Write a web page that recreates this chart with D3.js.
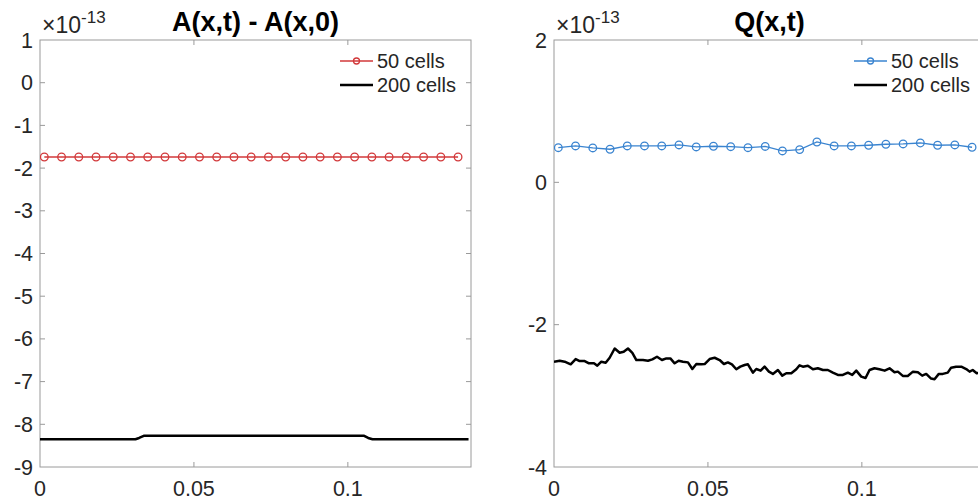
<!DOCTYPE html>
<html>
<head>
<meta charset="utf-8">
<script src="https://cdn.jsdelivr.net/npm/d3@7/dist/d3.min.js"></script>
<style>
  body { margin: 0; background: #fff; }
  svg { display: block; font-family: "Liberation Sans", Arial, sans-serif; }
</style>
</head>
<body>
<svg id="chart" width="978" height="502"></svg>
<script>
// shared x ticks
const xTicks = [0, 0.05, 0.1];
const xTickLabels = ['0', '0.05', '0.1'];

// 50 cells: cell centres that were plotted (x)
const coarseX = [0.0014, 0.0070, 0.0126, 0.0182, 0.0238, 0.0294, 0.0350, 0.0406, 0.0462,
  0.0518, 0.0574, 0.0630, 0.0686, 0.0742, 0.0798, 0.0854, 0.0910, 0.0966, 0.1022,
  0.1078, 0.1134, 0.1190, 0.1246, 0.1302, 0.1358];

// left panel: A(x,t) - A(x,0), in units of 1e-13
const leftYTicks = [1, 0, -1, -2, -3, -4, -5, -6, -7, -8, -9];
const aCoarse = [-1.74, -1.74, -1.74, -1.74, -1.74, -1.74, -1.74, -1.74, -1.74, -1.74,
  -1.74, -1.74, -1.74, -1.74, -1.74, -1.74, -1.74, -1.74, -1.74, -1.74,
  -1.74, -1.74, -1.74, -1.74, -1.74];
const aFineX = [0, 0.031, 0.0322, 0.0337, 0.1053, 0.1066, 0.108, 0.1392];
const aFine = [-8.35, -8.35, -8.32, -8.27, -8.27, -8.32, -8.35, -8.35];

// right panel: Q(x,t), in units of 1e-13
const rightYTicks = [2, 0, -2, -4];
const qCoarse = [0.487, 0.511, 0.483, 0.465, 0.511, 0.511, 0.511, 0.525, 0.497, 0.507,
  0.501, 0.487, 0.504, 0.441, 0.460, 0.567, 0.511, 0.511, 0.521, 0.535,
  0.539, 0.553, 0.521, 0.525, 0.493];
const qFineX = [0, 0.00185, 0.00347, 0.00542, 0.00704, 0.00834, 0.00997, 0.01136, 0.01299,
  0.01407, 0.01538, 0.01679, 0.01808, 0.01971, 0.02133, 0.02263, 0.02403, 0.02545,
  0.02675, 0.0289, 0.03052, 0.03195, 0.03345, 0.03507, 0.03649, 0.03779, 0.03919,
  0.04049, 0.04189, 0.04351, 0.04494, 0.04624, 0.04786, 0.04893, 0.05055, 0.05218,
  0.0538, 0.05519, 0.05649, 0.05779, 0.05922, 0.06052, 0.06192, 0.06299, 0.06461,
  0.06571, 0.06711, 0.0684, 0.06981, 0.0711, 0.07273, 0.07415, 0.07545, 0.07708,
  0.0787, 0.07977, 0.08085, 0.08247, 0.0841, 0.08571, 0.08734, 0.08896, 0.09058,
  0.09221, 0.09383, 0.09545, 0.09688, 0.09818, 0.0998, 0.1012, 0.1025, 0.1041,
  0.1057, 0.1074, 0.109, 0.1106, 0.1117, 0.1133, 0.1149, 0.1166, 0.1182, 0.1196,
  0.1209, 0.1225, 0.1236, 0.125, 0.1263, 0.1279, 0.129, 0.1306, 0.1323, 0.1339,
  0.135, 0.136, 0.1373, 0.1395];
const qFine = [-2.52, -2.507, -2.52, -2.557, -2.483, -2.511, -2.511, -2.543, -2.543,
  -2.576, -2.52, -2.535, -2.465, -2.335, -2.395, -2.381, -2.335, -2.395,
  -2.497, -2.497, -2.507, -2.488, -2.451, -2.497, -2.474, -2.474, -2.543,
  -2.507, -2.52, -2.53, -2.623, -2.553, -2.557, -2.553, -2.483, -2.465,
  -2.497, -2.553, -2.53, -2.557, -2.627, -2.59, -2.567, -2.557, -2.674,
  -2.623, -2.646, -2.59, -2.66, -2.692, -2.637, -2.716, -2.683, -2.683,
  -2.627, -2.571, -2.59, -2.576, -2.627, -2.613, -2.637, -2.637, -2.674,
  -2.706, -2.706, -2.674, -2.706, -2.646, -2.73, -2.75, -2.637, -2.613,
  -2.627, -2.646, -2.613, -2.669, -2.66, -2.72, -2.72, -2.66, -2.669, -2.716,
  -2.692, -2.757, -2.766, -2.692, -2.692, -2.674, -2.604, -2.59, -2.59, -2.623,
  -2.66, -2.637, -2.683, -2.66];

const seriesNames = ['50 cells', '200 cells'];

const svg = d3.select('#chart');
const axisColor = '#9a9a9a';
const textColor = '#262626';

function drawPanel(cfg) {
  const x = d3.scaleLinear().domain([0, 0.14]).range([cfg.left, cfg.left + 431]);
  const y = d3.scaleLinear().domain(cfg.yDomain).range([467, 40]);
  const g = svg.append('g');

  const clipId = 'clip-' + cfg.id;
  g.append('clipPath').attr('id', clipId)
    .append('rect')
    .attr('x', x.range()[0]).attr('y', 40)
    .attr('width', 431).attr('height', 427);

  // box
  g.append('rect')
    .attr('x', x.range()[0]).attr('y', 40)
    .attr('width', 431).attr('height', 427)
    .attr('fill', 'none').attr('stroke', axisColor).attr('stroke-width', 1);

  // inward ticks on all four sides
  const tl = 5;
  xTicks.forEach(t => {
    if (t === 0) return;
    g.append('line').attr('x1', x(t)).attr('x2', x(t)).attr('y1', 467).attr('y2', 467 - tl)
      .attr('stroke', axisColor);
    g.append('line').attr('x1', x(t)).attr('x2', x(t)).attr('y1', 40).attr('y2', 40 + tl)
      .attr('stroke', axisColor);
  });
  cfg.yTicks.forEach(t => {
    if (t === cfg.yDomain[0] || t === cfg.yDomain[1]) return;
    g.append('line').attr('x1', x.range()[0]).attr('x2', x.range()[0] + tl)
      .attr('y1', y(t)).attr('y2', y(t)).attr('stroke', axisColor);
    g.append('line').attr('x1', x.range()[1]).attr('x2', x.range()[1] - tl)
      .attr('y1', y(t)).attr('y2', y(t)).attr('stroke', axisColor);
  });

  // tick labels
  g.selectAll('.xl').data(xTicks).enter().append('text')
    .attr('x', d => x(d)).attr('y', 496)
    .attr('text-anchor', 'middle').attr('font-size', 21.5).attr('fill', textColor)
    .text((d, i) => xTickLabels[i]);
  g.selectAll('.yl').data(cfg.yTicks).enter().append('text')
    .attr('x', x.range()[0] - 7).attr('y', d => y(d) + 7.5)
    .attr('text-anchor', 'end').attr('font-size', 21.5).attr('fill', textColor)
    .text(d => d);

  // exponent
  const ex = g.append('text').attr('x', x.range()[0] + 2).attr('y', 33)
    .attr('font-size', 23).attr('fill', textColor);
  ex.append('tspan').text('\u00d710');
  ex.append('tspan').attr('dy', -10).attr('font-size', 17).text('-13');

  // title
  g.append('text').attr('x', (x.range()[0] + x.range()[1]) / 2).attr('y', 31)
    .attr('text-anchor', 'middle').attr('font-size', 27).attr('font-weight', 'bold')
    .attr('fill', '#000').text(cfg.title);

  const plot = g.append('g').attr('clip-path', `url(#${clipId})`);
  const line = d3.line().x(d => x(d[0])).y(d => y(d[1]));

  // 200 cells
  const fine = cfg.fineX.map((v, i) => [v, cfg.fine[i]]);
  plot.append('path').datum(fine).attr('d', line)
    .attr('fill', 'none').attr('stroke', '#000').attr('stroke-width', 2.5)
    .attr('stroke-linejoin', 'round');

  // 50 cells
  const coarse = coarseX.map((v, i) => [v, cfg.coarse[i]]);
  plot.append('path').datum(coarse).attr('d', line)
    .attr('fill', 'none').attr('stroke', cfg.color).attr('stroke-width', 1.3);
  plot.selectAll('.mk').data(coarse).enter().append('circle')
    .attr('cx', d => x(d[0])).attr('cy', d => y(d[1])).attr('r', 3.8)
    .attr('fill', 'none').attr('stroke', cfg.color).attr('stroke-width', 1.3);

  // legend (no box)
  const lx = cfg.legendX;
  g.append('line').attr('x1', lx).attr('x2', lx + 33).attr('y1', 61).attr('y2', 61)
    .attr('stroke', cfg.color).attr('stroke-width', 1.3);
  g.append('circle').attr('cx', lx + 16.5).attr('cy', 61).attr('r', 3)
    .attr('fill', 'none').attr('stroke', cfg.color).attr('stroke-width', 1.3);
  g.append('line').attr('x1', lx).attr('x2', lx + 33).attr('y1', 85).attr('y2', 85)
    .attr('stroke', '#000').attr('stroke-width', 2.5);
  g.selectAll('.lg').data(seriesNames).enter().append('text')
    .attr('x', lx + 37).attr('y', (d, i) => 68 + i * 24)
    .attr('font-size', 20).attr('fill', textColor).text(d => d);
}

drawPanel({
  id: 'a', left: 40, yDomain: [-9, 1], yTicks: leftYTicks,
  title: 'A(x,t) - A(x,0)', color: '#d2383a',
  coarse: aCoarse, fineX: aFineX, fine: aFine, legendX: 340
});
drawPanel({
  id: 'q', left: 554, yDomain: [-4, 2], yTicks: rightYTicks,
  title: 'Q(x,t)', color: '#3a84d0',
  coarse: qCoarse, fineX: qFineX, fine: qFine, legendX: 854
});
</script>
</body>
</html>
